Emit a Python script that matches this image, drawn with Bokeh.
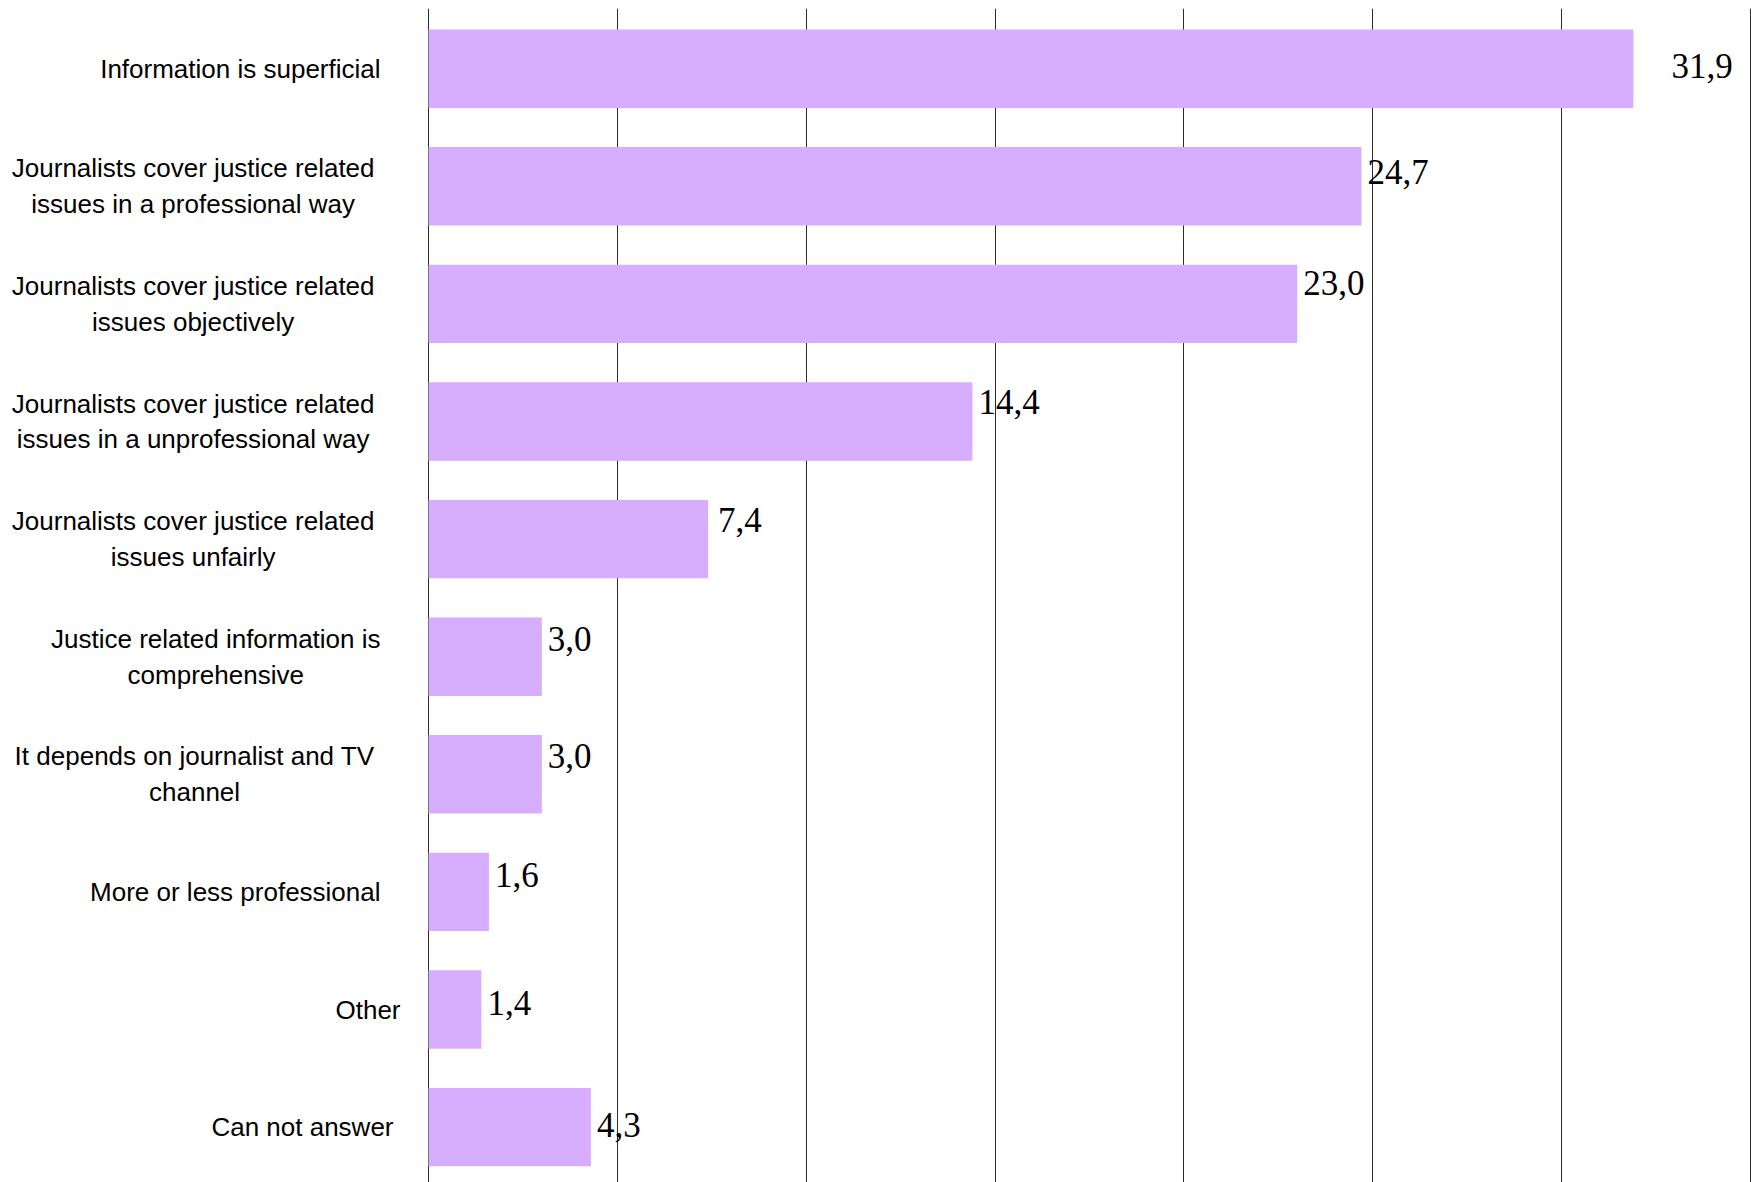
from bokeh.plotting import figure
from bokeh.models import Range1d, ColumnDataSource, Grid, FixedTicker
from bokeh.core.properties import value
from bokeh.embed import file_html
from bokeh.resources import INLINE

# ---------------- data ----------------
label_lines = [
    ["Information is superficial"],
    ["Journalists cover justice related", "issues in a professional way"],
    ["Journalists cover justice related", "issues objectively"],
    ["Journalists cover justice related", "issues in a unprofessional way"],
    ["Journalists cover justice related", "issues unfairly"],
    ["Justice related information is", "comprehensive"],
    ["It depends on journalist and TV", "channel"],
    ["More or less professional"],
    ["Other"],
    ["Can not answer"],
]
values = [31.9, 24.7, 23.0, 14.4, 7.4, 3.0, 3.0, 1.6, 1.4, 4.3]
x_ticks = [0, 5, 10, 15, 20, 25, 30, 35]

# ---------------- layout / style ----------------
# per-label nudges of value labels (pixels): horizontal gap, vertical shift
label_dx = [38, 6, 6, 6, 10, 6, 6, 6, 6, 6]
label_dy = [-3, -14, -21, -20, -19, -18, -18, -17, -7, -2]
# gap (pixels) between category label block and the axis
cat_gap = [48, 54, 54, 54, 54, 48, 54, 48, 28, 35]

BAR_COLOR = "#D7AEFF"
GRID_COLOR = "#2b2b2b"
CAT_FONT = "Liberation Sans"
CAT_SIZE = 26
VAL_FONT = "Liberation Serif"
VAL_SIZE = 35
LINE_H = 35.7

# approximate Arial advance widths (per 1000 em)
ARIAL_W = {' ': 278, 'a': 556, 'b': 556, 'c': 500, 'd': 556, 'e': 556, 'f': 278, 'g': 556,
           'h': 556, 'i': 222, 'j': 222, 'k': 500, 'l': 222, 'm': 833, 'n': 556, 'o': 556,
           'p': 556, 'q': 556, 'r': 333, 's': 500, 't': 278, 'u': 556, 'v': 500, 'w': 722,
           'x': 500, 'y': 500, 'z': 500, 'C': 722, 'I': 278, 'J': 500, 'M': 833, 'O': 778,
           'T': 611, 'V': 667}


def text_width(s, size):
    return sum(ARIAL_W.get(ch, 556) for ch in s) * size / 1000.0


categories = [" ".join(lines) for lines in label_lines]
ypos = list(range(len(categories)))  # 0 at top

MARGIN = 8
FW, FH = 1743, 1174          # frame size
W, H = FW + MARGIN, FH + MARGIN
px_per_unit = 1322 / 35.0
x_start = -420 / px_per_unit
x_end = x_start + FW / px_per_unit
step_px = 117.6
y_top = -60.2 / step_px
y_bottom = y_top + FH / step_px

p = figure(
    width=W, height=H,
    x_range=Range1d(x_start, x_end),
    y_range=Range1d(start=y_bottom, end=y_top),
    x_axis_location=None, y_axis_location=None,
    toolbar_location=None, output_backend="svg",
    min_border=0, min_border_left=MARGIN, min_border_right=0,
    min_border_top=MARGIN, min_border_bottom=0,
)
p.outline_line_color = None
p.background_fill_color = "white"
p.border_fill_color = "white"
p.center = [r for r in p.center if not isinstance(r, Grid)]

grid = Grid(dimension=0, ticker=FixedTicker(ticks=x_ticks),
            grid_line_color=GRID_COLOR, grid_line_width=1)
p.add_layout(grid)

bar_src = ColumnDataSource(dict(y=ypos, val=values))
p.hbar(y="y", right="val", left=0, height=0.667, source=bar_src,
       fill_color=BAR_COLOR, line_color=None)

# value labels
val_src = ColumnDataSource(dict(
    y=ypos, val=values,
    txt=[f"{v:.1f}".replace(".", ",") for v in values],
    dx=label_dx, dy=label_dy,
))
p.text(x="val", y="y", text="txt", source=val_src,
       x_offset="dx", y_offset="dy",
       text_font=value(VAL_FONT), text_font_size=f"{VAL_SIZE}px",
       text_align="left", text_baseline="middle", text_color="black")

# category labels (drawn inside the frame, left of x=0)
ly_, lt, lx, lyo = [], [], [], []
for y, lines, gap in zip(ypos, label_lines, cat_gap):
    block_w = max(text_width(s, CAT_SIZE) for s in lines)
    n = len(lines)
    for i, s in enumerate(lines):
        ly_.append(y)
        lt.append(s)
        lx.append(-(gap + block_w / 2.0))
        lyo.append((i - (n - 1) / 2.0) * LINE_H)
lab_src = ColumnDataSource(dict(y=ly_, txt=lt, xo=lx, yo=lyo, x0=[0] * len(lt)))
p.text(x="x0", y="y", text="txt", source=lab_src,
       x_offset="xo", y_offset="yo",
       text_font=value(CAT_FONT), text_font_size=f"{CAT_SIZE}px",
       text_align="center", text_baseline="middle", text_color="black")

open("out.html", "w").write(file_html(p, INLINE))
